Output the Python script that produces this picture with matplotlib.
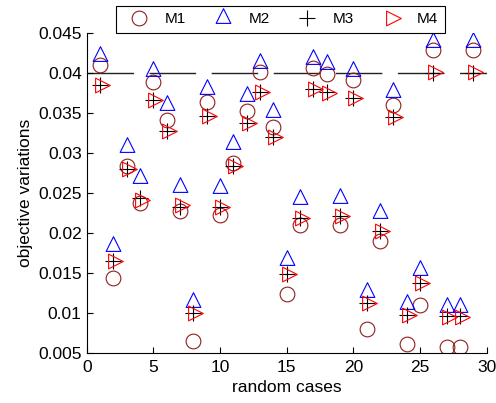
import numpy as np
import matplotlib
matplotlib.use('Agg')
import matplotlib.pyplot as plt
from matplotlib.path import Path

plt.rcParams['font.family'] = ['Liberation Sans', 'DejaVu Sans']

cases = list(range(1, 30))

m1 = [0.0410, 0.01445, 0.02845, 0.0238, 0.0389, 0.0342, 0.0228, 0.00654, 0.0364, 0.0223,
      0.0288, 0.0353, 0.0401, 0.0333, 0.0124, 0.0210, 0.0406, 0.0399, 0.0210, 0.0392,
      0.0081, 0.0190, 0.0360, 0.0062, 0.0110, 0.0429, 0.0058, 0.0058, 0.0429]
m2 = [0.0422, 0.01845, 0.0308, 0.02695, 0.0403, 0.0360, 0.0258, 0.0114, 0.0380, 0.0257,
      0.0311, 0.0371, 0.04125, 0.0352, 0.01666, 0.0243, 0.0418, 0.0411, 0.0244, 0.0403,
      0.0127, 0.0225, 0.0377, 0.0112, 0.0154, 0.0439, 0.0108, 0.0108, 0.0439]
m3 = [0.0385, 0.0166, 0.0280, 0.0244, 0.0367, 0.0328, 0.0233, 0.0101, 0.0347, 0.0233,
      0.0284, 0.0338, 0.0377, 0.0321, 0.0149, 0.0219, 0.0380, 0.0376, 0.0222, 0.0369,
      0.0113, 0.0203, 0.0345, 0.0098, 0.0138, 0.0400, 0.0097, 0.0097, 0.0400]
m4 = [0.0385, 0.0166, 0.0280, 0.0242, 0.0367, 0.0328, 0.0235, 0.0100, 0.0347, 0.0233,
      0.02845, 0.0338, 0.0376, 0.0321, 0.0149, 0.0219, 0.0380, 0.0375, 0.0222, 0.0369,
      0.0113, 0.0203, 0.0345, 0.0098, 0.0138, 0.0401, 0.0096, 0.0096, 0.0401]

ref_x = [0, 30]
ref_y = [0.04, 0.04]

xticks = [0, 5, 10, 15, 20, 25, 30]
yticks = [0.005, 0.01, 0.015, 0.02, 0.025, 0.03, 0.035, 0.04, 0.045]
ytick_labels = ['0.005', '0.01', '0.015', '0.02', '0.025', '0.03', '0.035', '0.04', '0.045']

# triangles centred on their centroid (matlab style)
tri_up = Path([(0, 2), (-1.5, -1), (1.5, -1), (0, 2)], closed=True)
tri_right = Path([(2, 0), (-1, 1.5), (-1, -1.5), (2, 0)], closed=True)

fig = plt.figure(figsize=(4.96, 4.03), dpi=100)
ax = fig.add_axes([86.7 / 496, 1 - 353.3 / 403, 400 / 496, 320 / 403])

ax.plot(ref_x, ref_y, color='#222222', lw=1.0, dashes=(33.5, 11.2), zorder=1)

ax.plot(cases, m1, ls='none', marker='o', ms=10.6, mfc='none', mec='#901c1c', mew=0.8, label='M1')
ax.plot(cases, m2, ls='none', marker=tri_up, ms=14.1, mfc='none', mec='#0000ff', mew=0.8, label='M2')
ax.plot(cases, m3, ls='none', marker='+', ms=11, mec='k', mew=0.8, label='M3')
ax.plot(cases, m4, ls='none', marker=tri_right, ms=14.1, mfc='none', mec='#ff0000', mew=0.8, label='M4')

ax.set_xlim(0, 30)
ax.set_ylim(0.005, 0.045)
ax.set_xticks(xticks)
ax.set_yticks(yticks)
ax.set_yticklabels(ytick_labels)
ax.tick_params(direction='in', length=4, width=0.8, labelsize=12.5)
ax.tick_params(axis='x', pad=4.5)
ax.tick_params(axis='y', pad=3.6)
for s in ['top', 'right']:
    ax.spines[s].set_visible(False)
for s in ['left', 'bottom']:
    ax.spines[s].set_linewidth(0.8)

ax.set_xlabel('random cases', fontsize=12.5, labelpad=4)
ax.set_ylabel('objective variations', fontsize=12.5, labelpad=4)

leg = ax.legend(loc='lower center', bbox_to_anchor=(0.484, 1.0), ncol=4, fontsize=11,
                fancybox=False, edgecolor='k', framealpha=1, borderaxespad=0,
                handlelength=2.2, handletextpad=0.6, columnspacing=1.3, borderpad=0.45)
leg.get_frame().set_linewidth(0.8)

fig.savefig('out.png', dpi=100)
